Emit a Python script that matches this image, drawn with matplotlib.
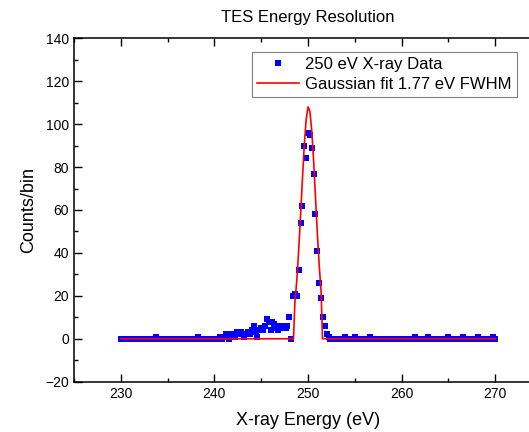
import matplotlib
matplotlib.use("Agg")
import matplotlib.pyplot as plt
import numpy as np
from matplotlib.ticker import MultipleLocator

plt.rcParams["font.family"] = ["Liberation Sans", "DejaVu Sans"]

# histogram bins: 0.2 eV wide, 230 eV .. 270 eV
bin_start = 230.0
bin_width = 0.2
counts = [
    0, 0, 0, 0, 0, 0, 0, 0, 0, 0,   # 230
    0, 0, 0, 0, 0, 0, 0, 0, 0, 1,   # 232
    0, 0, 0, 0, 0, 0, 0, 0, 0, 0,   # 234
    0, 0, 0, 0, 0, 0, 0, 0, 0, 0,   # 236
    0, 1, 0, 0, 0, 0, 0, 0, 0, 0,   # 238
    0, 0, 0, 1, 0, 1, 2, 1, 0, 2,   # 240
    1, 1, 3, 2, 3, 2, 1, 2, 3, 2,   # 242
    4, 6, 3, 1, 4, 5, 4, 6, 9, 8,   # 244
    4, 8, 7, 5, 4, 6, 5, 6, 5, 6,   # 246
    10, 0, 20, 21, 20, 32, 54, 62, 90, 84,  # 248
    96, 95, 89, 77, 58, 41, 26, 19, 10, 6,  # 250
    2, 1, 0, 0, 0, 0, 0, 0, 0, 0,   # 252
    1, 0, 0, 0, 0, 1, 0, 0, 0, 0,   # 254
    0, 0, 0, 1, 0, 0, 0, 0, 0, 0,   # 256
    0, 0, 0, 0, 0, 0, 0, 0, 0, 0,   # 258
    0, 0, 0, 0, 0, 0, 0, 1, 0, 0,   # 260
    0, 0, 0, 0, 1, 0, 0, 0, 0, 0,   # 262
    0, 0, 0, 0, 0, 1, 0, 0, 0, 0,   # 264
    0, 0, 0, 1, 0, 0, 0, 0, 0, 0,   # 266
    0, 1, 0, 0, 0, 0, 0, 0, 0, 1,   # 268
    0,                              # 270
]
energy = bin_start + bin_width * np.arange(len(counts))

# fitted gaussian as drawn
fit_e = [230.0, 248.45, 248.6, 248.8, 249.0, 249.2, 249.4, 249.6, 249.8,
         250.0, 250.2, 250.4, 250.6, 250.8, 251.0, 251.2, 251.4, 251.55, 270.0]
fit_y = [0, 0, 17, 27, 41, 57, 74, 90, 102,
         108, 106, 97, 83, 66, 49, 34, 22, 0, 0]

fig = plt.figure(figsize=(5.29, 4.32), dpi=100)
ax = fig.add_axes([74 / 529, 1 - 381.7 / 432, (542 - 74) / 529, (381.7 - 38.3) / 432])

ax.plot(energy, counts, "s", color="#0000ff", markersize=4.2, markeredgewidth=0,
        label="250 eV X-ray Data")
ax.plot(fit_e, fit_y, "-", color="#ff0000", linewidth=1.2,
        label="Gaussian fit 1.77 eV FWHM")

ax.set_xlim(225, 275)
ax.set_ylim(-20, 140)
ax.xaxis.set_major_locator(MultipleLocator(10))
ax.xaxis.set_minor_locator(MultipleLocator(5))
ax.yaxis.set_major_locator(MultipleLocator(20))
ax.yaxis.set_minor_locator(MultipleLocator(10))
ax.tick_params(which="both", direction="in", top=True, right=True, labelsize=10, width=1)
ax.tick_params(which="major", length=5.5)
ax.tick_params(which="minor", length=3)
for s in ax.spines.values():
    s.set_linewidth(1.1)

ax.set_xlabel("X-ray Energy (eV)", fontsize=13, labelpad=8)
ax.set_ylabel("Counts/bin", fontsize=13, labelpad=6)
ax.set_title("TES Energy Resolution", fontsize=12, pad=12)

leg = ax.legend(loc="upper right", bbox_to_anchor=(517 / 529, 1 - 51.7 / 432),
                bbox_transform=fig.transFigure, fontsize=12, numpoints=1,
                handlelength=2.5, handletextpad=0.4, labelspacing=0.3,
                borderpad=0.3, fancybox=False, framealpha=1, borderaxespad=0)
leg.get_frame().set_edgecolor("#808080")
leg.get_frame().set_linewidth(0.8)

fig.savefig("out.png", dpi=100)
